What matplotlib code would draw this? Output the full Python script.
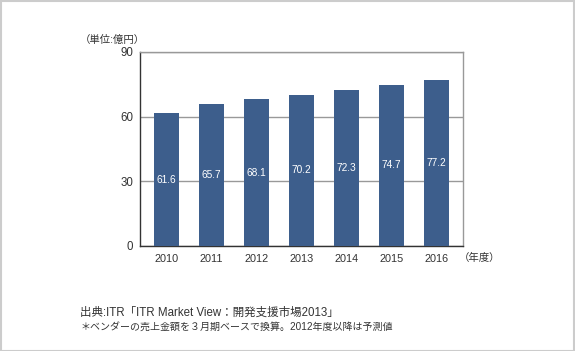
import matplotlib.pyplot as plt
from matplotlib.patches import Rectangle

# latin glyphs from Liberation Sans, Japanese from Noto CJK
plt.rcParams['font.family'] = ['Liberation Sans', 'Noto Sans CJK JP']

# data
years = ['2010', '2011', '2012', '2013', '2014', '2015', '2016']
values = [61.6, 65.7, 68.1, 70.2, 72.3, 74.7, 77.2]
yticks = [0, 30, 60, 90]

W, H = 575, 351
fig = plt.figure(figsize=(W / 100, H / 100), dpi=100)
ax = fig.add_axes([140 / W, 1 - 246 / H, 323 / W, 194 / H])

bar_color = '#3d5e8c'
text_color = '#333333'

x = list(range(len(years)))
ax.bar(x, values, width=0.556, color=bar_color, zorder=3)

# value labels in the middle of each bar
for xi, v in zip(x, values):
    ax.text(xi, v / 2, f'{v:.1f}', ha='center', va='center', color='white',
            fontsize=7.3, zorder=4)

ax.set_xlim(-0.589, 6.589)
ax.set_ylim(0, 90)
ax.set_xticks(x)
ax.set_xticklabels(years)
ax.set_yticks(yticks)
ax.tick_params(axis='both', length=0, labelsize=7.8, colors=text_color)
ax.tick_params(axis='y', labelsize=8.3)
ax.tick_params(axis='x', pad=6)
ax.tick_params(axis='y', pad=5)

ax.grid(axis='y', color='#999999', linewidth=1, zorder=0)
ax.spines['top'].set_color('#999999')
ax.spines['right'].set_color('#999999')
ax.spines['left'].set_color('#333333')
ax.spines['bottom'].set_color('#333333')
for s in ax.spines.values():
    s.set_linewidth(1)

fig.text(80 / W, 1 - 40 / H, '（単位:億円）', ha='left', va='center',
         fontsize=7.5, color=text_color)
fig.text(459 / W, 1 - 258 / H, '（年度）', ha='left', va='center',
         fontsize=7.5, color=text_color)

fig.text(80 / W, 1 - 313 / H, '出典:ITR「ITR Market View：開発支援市場2013」',
         ha='left', va='center', fontsize=8.3, color=text_color)
fig.text(80 / W, 1 - 327 / H, '＊ベンダーの売上金額を３月期ベースで換算。2012年度以降は予測値',
         ha='left', va='center', fontsize=7.2, color=text_color)

# light grey frame around the picture
fig.patches.append(Rectangle((0.5 / W, 0.5 / H), 1 - 1.5 / W, 1 - 1.5 / H,
                             transform=fig.transFigure, fill=False,
                             edgecolor='#cccccc', linewidth=1.5))

fig.savefig('out.png', dpi=100)
